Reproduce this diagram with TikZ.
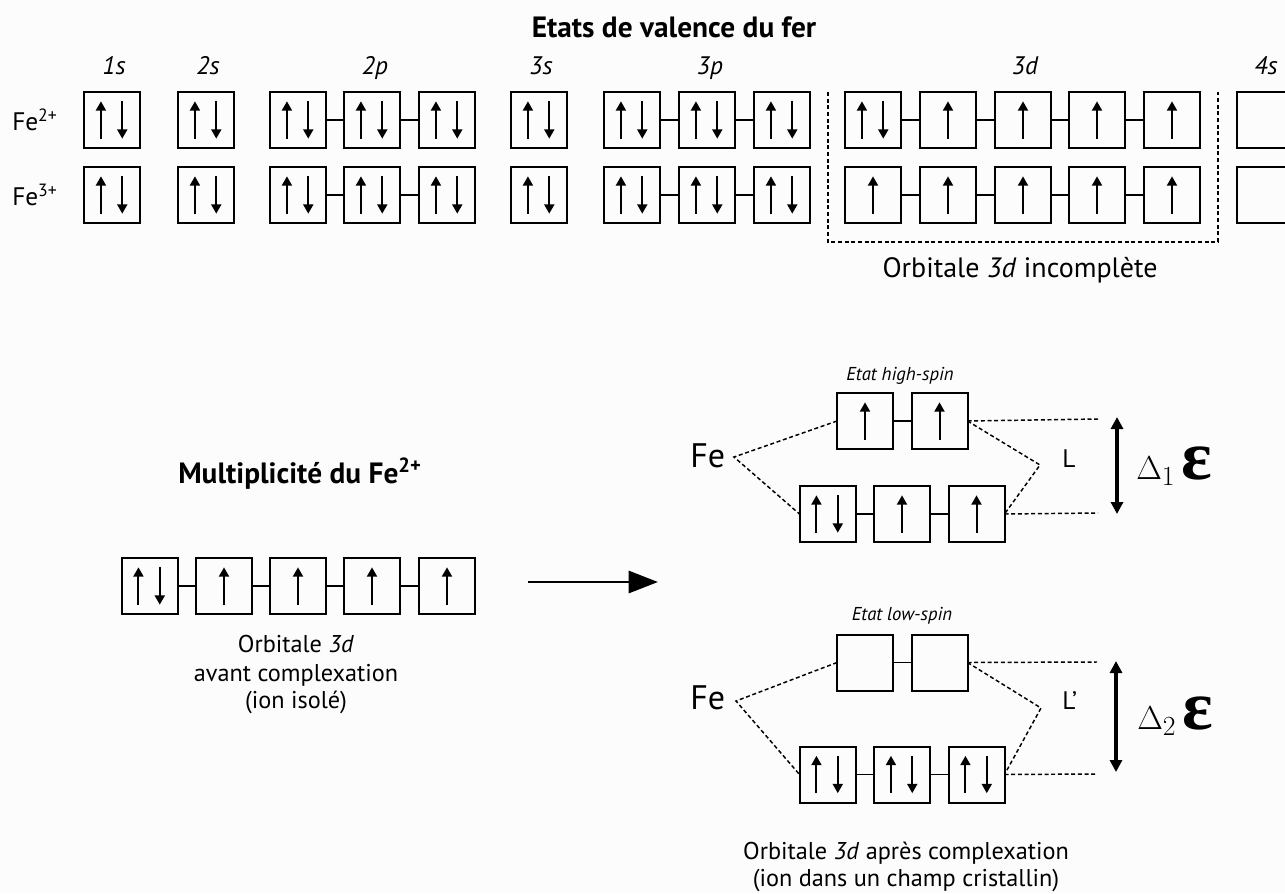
\documentclass[tikz,border=0pt]{standalone}
\usepackage[no-math]{fontspec}
\setmainfont{PT Sans}
\newfontfamily\tnr{Liberation Serif}
\usetikzlibrary{arrows.meta}
\definecolor{bg}{RGB}{252,252,252}
\tikzset{
  orb/.style={draw, line width=1.5pt, minimum width=42pt, minimum height=42pt, inner sep=0pt, outer sep=0pt},
  spin/.style={line width=1.5pt, -{Triangle[length=7pt,width=7.5pt]}},
  link/.style={line width=1.1pt},
  dsh/.style={line width=1.1pt, dash pattern=on 3pt off 2pt},
  ttl/.style={anchor=base, inner sep=0pt, font=\fontsize{22pt}{24pt}\selectfont\bfseries},
  olab/.style={anchor=base, inner sep=0pt, font=\fontsize{19pt}{21pt}\selectfont\itshape},
  txt/.style={anchor=base, inner sep=0pt, font=\fontsize{18.2pt}{20pt}\selectfont},
  txtb/.style={anchor=base, inner sep=0pt, font=\fontsize{21pt}{23pt}\selectfont},
  fesm/.style={anchor=base west, inner sep=0pt, font=\fontsize{19pt}{20pt}\selectfont},
  febig/.style={anchor=base west, inner sep=0pt, font=\fontsize{25.5pt}{27pt}\selectfont},
  state/.style={anchor=base, inner sep=0pt, font=\fontsize{14pt}{16pt}\selectfont\itshape},
  llab/.style={anchor=base west, inner sep=0pt, font=\fontsize{19pt}{20pt}\selectfont},
  dlab/.style={anchor=base west, inner sep=0pt, font=\fontsize{28.5pt}{30pt}\selectfont},
  dbl/.style={line width=2.4pt, {Triangle[length=9pt,width=9pt]}-{Triangle[length=9pt,width=9pt]}},
  bigarrow/.style={line width=2.2pt, -{Triangle[length=22pt,width=16.5pt]}}
}
\newcommand\oE[3]{\node[orb] (#1) at (#2,#3) {};}
\newcommand\oU[3]{\node[orb] (#1) at (#2,#3) {};
  \draw[spin] ([yshift=7pt]#1.south) -- ([yshift=-7pt]#1.north);}
\newcommand\oP[3]{\node[orb] (#1) at (#2,#3) {};
  \draw[spin] ([xshift=-8.3pt,yshift=7pt]#1.south) -- ([xshift=-8.3pt,yshift=-7pt]#1.north);
  \draw[spin] ([xshift=7.7pt,yshift=-7pt]#1.north) -- ([xshift=7.7pt,yshift=7pt]#1.south);}
\newcommand\eps{\resizebox{23pt}{24.5pt}{\tnr\bfseries ε}}
\begin{document}
\begin{tikzpicture}[x=0.75pt,y=-0.75pt]
\useasboundingbox (0,0) rectangle (1285,893);
\clip (0,0) rectangle (1285,893);
\fill[bg] (0,0) rectangle (1285,893);

% ---------- top: valence states ----------
\node[ttl] (title) at (674,37) {Etats de valence du fer};
\node[olab] (l1s) at (114,74) {1s};
\node[olab] (l2s) at (208,74) {2s};
\node[olab] (l2p) at (375,74) {2p};
\node[olab] (l3s) at (541,74) {3s};
\node[olab] (l3p) at (710,74) {3p};
\node[olab] (l3d) at (1025,74) {3d};
\node[olab] (l4s) at (1266,74) {4s};

\node[fesm] (fe2) at (12,130) {Fe\textsuperscript{2+}};
\node[fesm] (fe3) at (12,205) {Fe\textsuperscript{3+}};

% row Fe2+
\oP{a1s}{112}{120}
\oP{a2s}{206}{120}
\oP{a2pa}{298}{120} \oP{a2pb}{372}{120} \oP{a2pc}{447}{120}
\oP{a3s}{539}{120}
\oP{a3pa}{632}{120} \oP{a3pb}{707}{120} \oP{a3pc}{782}{120}
\oP{a3da}{873}{120} \oU{a3db}{948}{120} \oU{a3dc}{1023}{120} \oU{a3dd}{1097}{120} \oU{a3de}{1172}{120}
\oE{a4s}{1265}{120}
\draw[link] (a2pa) -- (a2pb); \draw[link] (a2pb) -- (a2pc);
\draw[link] (a3pa) -- (a3pb); \draw[link] (a3pb) -- (a3pc);
\draw[link] (a3da) -- (a3db); \draw[link] (a3db) -- (a3dc); \draw[link] (a3dc) -- (a3dd); \draw[link] (a3dd) -- (a3de);

% row Fe3+
\oP{b1s}{112}{195}
\oP{b2s}{206}{195}
\oP{b2pa}{298}{195} \oP{b2pb}{372}{195} \oP{b2pc}{447}{195}
\oP{b3s}{539}{195}
\oP{b3pa}{632}{195} \oP{b3pb}{707}{195} \oP{b3pc}{782}{195}
\oU{b3da}{873}{195} \oU{b3db}{948}{195} \oU{b3dc}{1023}{195} \oU{b3dd}{1097}{195} \oU{b3de}{1172}{195}
\oE{b4s}{1265}{195}
\draw[link] (b2pa) -- (b2pb); \draw[link] (b2pb) -- (b2pc);
\draw[link] (b3pa) -- (b3pb); \draw[link] (b3pb) -- (b3pc);
\draw[link] (b3da) -- (b3db); \draw[link] (b3db) -- (b3dc); \draw[link] (b3dc) -- (b3dd); \draw[link] (b3dd) -- (b3de);

% dashed frame round 3d
\coordinate (fA) at (828,92);
\coordinate (fB) at (828,242);
\coordinate (fC) at (1218,242);
\coordinate (fD) at (1218,92);
\draw[dsh] (fA) -- (fB) -- (fC) -- (fD);
\node[txtb] (inc) at (1020,277) {Orbitale \textit{3d} incomplète};

% ---------- middle left ----------
\node[ttl, anchor=base west] (mult) at (178,483) {Multiplicité du Fe\textsuperscript{2+}};
\oP{m1}{149.5}{586} \oU{m2}{224}{586} \oU{m3}{298}{586} \oU{m4}{372}{586} \oU{m5}{447}{586}
\draw[link] (m1) -- (m2); \draw[link] (m2) -- (m3); \draw[link] (m3) -- (m4); \draw[link] (m4) -- (m5);
\node[txt] (av1) at (296,652) {Orbitale \textit{3d}};
\node[txt] (av2) at (296,681) {avant complexation};
\node[txt] (av3) at (296,708) {(ion isolé)};

\coordinate (arS) at (528,582);
\coordinate (arE) at (658,582);
\draw[bigarrow] (arS) -- (arE);

% ---------- high spin ----------
\node[state] (hs) at (900,380) {Etat high-spin};
\oU{hu1}{865}{421} \oU{hu2}{939.5}{421}
\draw[link] (hu1) -- (hu2);
\oP{hl1}{827.5}{514} \oU{hl2}{902}{514} \oU{hl3}{976.5}{514}
\draw[link] (hl1) -- (hl2); \draw[link] (hl2) -- (hl3);
\node[febig] (feH) at (690,467) {Fe};
\coordinate (vH) at (734,457);
\coordinate (wH) at (1040,465);
\coordinate (hH1) at (1098,419);
\coordinate (hH2) at (1098,513);
\draw[dsh] (hu1.west) -- (vH) -- (hl1.west);
\draw[dsh] (hu2.east) -- (wH) -- (hl3.east);
\draw[dsh] (hu2.east) -- (hH1);
\draw[dsh] (hl3.east) -- (hH2);
\node[llab] (LH) at (1062,467) {L};
\coordinate (dH1) at (1117,417);
\coordinate (dH2) at (1117,514);
\draw[dbl] (dH1) -- (dH2);
\node[dlab] (d1) at (1136,479) {$\Delta_1$\hspace{5pt}\eps};

% ---------- low spin ----------
\node[state] (ls) at (902,620) {Etat low-spin};
\oE{lu1}{865}{662.5} \oE{lu2}{939.5}{662.5}
\draw[link] (lu1) -- (lu2);
\oP{ll1}{827.5}{774.5} \oP{ll2}{902}{774.5} \oP{ll3}{976.5}{774.5}
\draw[link] (ll1) -- (ll2); \draw[link] (ll2) -- (ll3);
\node[febig] (feL) at (690,709) {Fe};
\coordinate (vL) at (736,701);
\coordinate (wL) at (1041,708);
\coordinate (hL1) at (1097,662);
\coordinate (hL2) at (1097,774);
\draw[dsh] (lu1.west) -- (vL) -- (ll1.west);
\draw[dsh] (lu2.east) -- (wL) -- (ll3.east);
\draw[dsh] (lu2.east) -- (hL1);
\draw[dsh] (ll3.east) -- (hL2);
\node[llab] (LL) at (1062,709) {L'};
\coordinate (dL1) at (1116,661);
\coordinate (dL2) at (1116,772);
\draw[dbl] (dL1) -- (dL2);
\node[dlab] (d2) at (1137,729) {$\Delta_2$\hspace{5pt}\eps};

\node[txt] (ap1) at (906,859) {Orbitale \textit{3d} après complexation};
\node[txt] (ap2) at (906,886) {(ion dans un champ cristallin)};
\end{tikzpicture}
\end{document}
